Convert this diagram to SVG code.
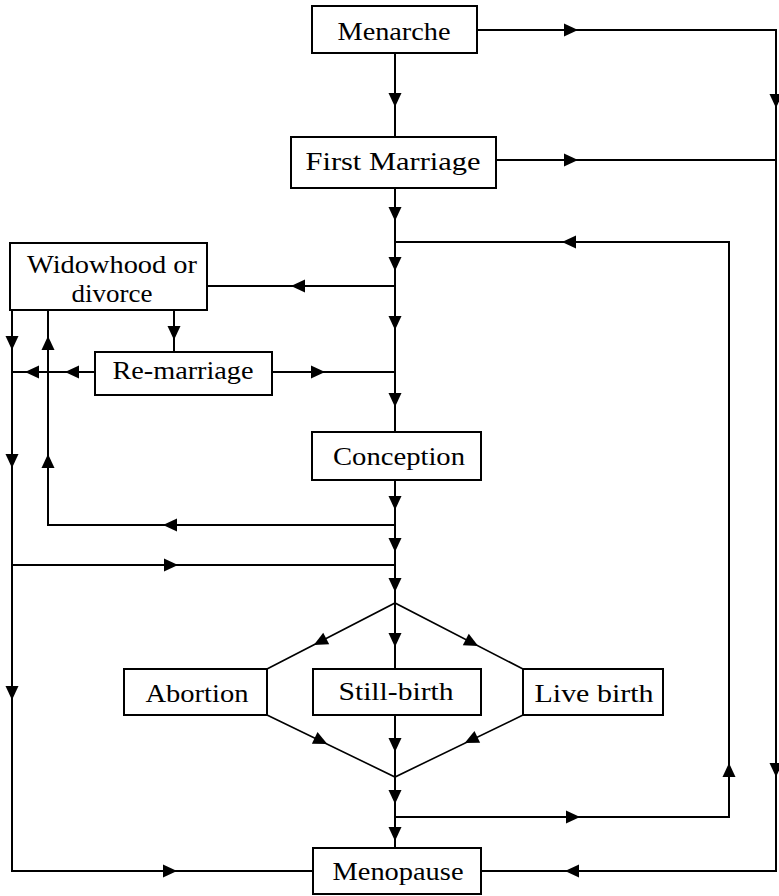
<svg xmlns="http://www.w3.org/2000/svg" xmlns:xlink="http://www.w3.org/1999/xlink" width="779" height="896" viewBox="0 0 779 896">
<style>
.box{fill:#fff;stroke:#000;stroke-width:2}
.lbl{font-family:"Liberation Serif","Times New Roman",serif;font-size:25px;fill:#000;text-anchor:middle}
.ln{fill:none;stroke:#000;stroke-width:2;stroke-linejoin:miter}
.dl{fill:none;stroke:#000;stroke-width:1.6}
</style>
<defs>
<path id="ah" d="M-7,-6.5 L7,0 L-7,6.5 Z" fill="#000"/>
</defs>
<rect width="779" height="896" fill="#fff"/>
<g id="connectors">
<path class="ln" d="M477,30 H776 V871 H481"/>
<path class="ln" d="M496,160 H776"/>
<path class="ln" d="M395,53 V137"/>
<path class="ln" d="M395,188 V432"/>
<path class="ln" d="M395,242 H729 V817 H395"/>
<path class="ln" d="M207,286 H395"/>
<path class="ln" d="M174,310 V352"/>
<path class="ln" d="M272,372 H395"/>
<path class="ln" d="M95,372 H12"/>
<path class="ln" d="M12,310 V871 H313"/>
<path class="ln" d="M48,310 V525 H395"/>
<path class="ln" d="M12,565 H395"/>
<path class="ln" d="M395,480 V669"/>
<path class="ln" d="M395,715 V848"/>
<path class="dl" d="M267,669 L395,603 L523,669"/>
<path class="dl" d="M267,715 L395,777 L523,715"/>
<use xlink:href="#ah" transform="translate(571,30)"/>
<use xlink:href="#ah" transform="translate(776,101) rotate(90)"/>
<use xlink:href="#ah" transform="translate(776,770) rotate(90)"/>
<use xlink:href="#ah" transform="translate(395,100) rotate(90)"/>
<use xlink:href="#ah" transform="translate(571,160)"/>
<use xlink:href="#ah" transform="translate(395,214) rotate(90)"/>
<use xlink:href="#ah" transform="translate(395,264) rotate(90)"/>
<use xlink:href="#ah" transform="translate(395,323) rotate(90)"/>
<use xlink:href="#ah" transform="translate(395,400) rotate(90)"/>
<use xlink:href="#ah" transform="translate(569,242) rotate(180)"/>
<use xlink:href="#ah" transform="translate(729,770) rotate(-90)"/>
<use xlink:href="#ah" transform="translate(573,817)"/>
<use xlink:href="#ah" transform="translate(298,286) rotate(180)"/>
<use xlink:href="#ah" transform="translate(174,333) rotate(90)"/>
<use xlink:href="#ah" transform="translate(318,372)"/>
<use xlink:href="#ah" transform="translate(72,372) rotate(180)"/>
<use xlink:href="#ah" transform="translate(32,372) rotate(180)"/>
<use xlink:href="#ah" transform="translate(12,343) rotate(90)"/>
<use xlink:href="#ah" transform="translate(12,461) rotate(90)"/>
<use xlink:href="#ah" transform="translate(12,693) rotate(90)"/>
<use xlink:href="#ah" transform="translate(170,871)"/>
<use xlink:href="#ah" transform="translate(48,343) rotate(-90)"/>
<use xlink:href="#ah" transform="translate(48,461) rotate(-90)"/>
<use xlink:href="#ah" transform="translate(170,525) rotate(180)"/>
<use xlink:href="#ah" transform="translate(171,565)"/>
<use xlink:href="#ah" transform="translate(395,503) rotate(90)"/>
<use xlink:href="#ah" transform="translate(395,545) rotate(90)"/>
<use xlink:href="#ah" transform="translate(395,585) rotate(90)"/>
<use xlink:href="#ah" transform="translate(395,640) rotate(90)"/>
<use xlink:href="#ah" transform="translate(320,641.7) rotate(152.7)"/>
<use xlink:href="#ah" transform="translate(472,642.7) rotate(27.3)"/>
<use xlink:href="#ah" transform="translate(395,745) rotate(90)"/>
<use xlink:href="#ah" transform="translate(321,741) rotate(25.8)"/>
<use xlink:href="#ah" transform="translate(471,740) rotate(154.2)"/>
<use xlink:href="#ah" transform="translate(395,797) rotate(90)"/>
<use xlink:href="#ah" transform="translate(395,834) rotate(90)"/>
<use xlink:href="#ah" transform="translate(572,871) rotate(180)"/>
</g>
<g id="menarche">
<rect class="box" x="312" y="6" width="165" height="47"/>
<text class="lbl" x="394" y="40" textLength="113" lengthAdjust="spacingAndGlyphs">Menarche</text>
</g>
<g id="first-marriage">
<rect class="box" x="291" y="137" width="205" height="51"/>
<text class="lbl" x="393" y="170" textLength="175" lengthAdjust="spacingAndGlyphs">First Marriage</text>
</g>
<g id="widowhood">
<rect class="box" x="10" y="243" width="197" height="67"/>
<text class="lbl" x="112" y="273" textLength="170" lengthAdjust="spacingAndGlyphs">Widowhood or</text>
<text class="lbl" x="112" y="302" textLength="81" lengthAdjust="spacingAndGlyphs">divorce</text>
</g>
<g id="re-marriage">
<rect class="box" x="95" y="352" width="177" height="43"/>
<text class="lbl" x="183" y="379" textLength="141" lengthAdjust="spacingAndGlyphs">Re-marriage</text>
</g>
<g id="conception">
<rect class="box" x="312" y="432" width="169" height="48"/>
<text class="lbl" x="399" y="465" textLength="132" lengthAdjust="spacingAndGlyphs">Conception</text>
</g>
<g id="abortion">
<rect class="box" x="124" y="669" width="143" height="46"/>
<text class="lbl" x="197" y="702" textLength="103" lengthAdjust="spacingAndGlyphs">Abortion</text>
</g>
<g id="still-birth">
<rect class="box" x="313" y="669" width="168" height="46"/>
<text class="lbl" x="396" y="700" textLength="115" lengthAdjust="spacingAndGlyphs">Still-birth</text>
</g>
<g id="live-birth">
<rect class="box" x="523" y="669" width="140" height="46"/>
<text class="lbl" x="594" y="702" textLength="119" lengthAdjust="spacingAndGlyphs">Live birth</text>
</g>
<g id="menopause">
<rect class="box" x="313" y="848" width="168" height="46"/>
<text class="lbl" x="398" y="880" textLength="131" lengthAdjust="spacingAndGlyphs">Menopause</text>
</g>
</svg>
